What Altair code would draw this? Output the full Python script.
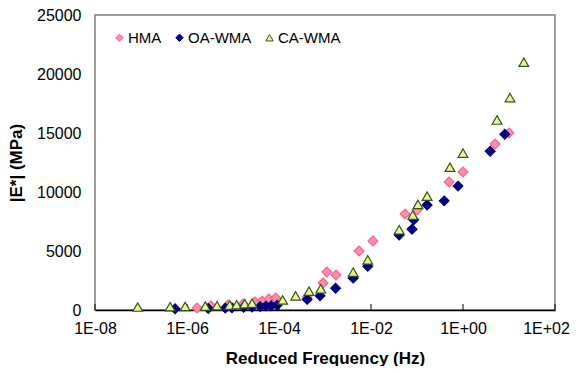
import altair as alt
import pandas as pd

series_names = ["HMA", "OA-WMA", "CA-WMA"]

hma_freq = [1.66e-6, 3.3e-6, 7.8e-6, 1.66e-5, 3.0e-5, 4.3e-5, 6.0e-5, 8.5e-5,
            4.1e-4, 9.1e-4, 1.1e-3, 1.74e-3, 5.5e-3, 0.011, 0.055, 0.1,
            0.5, 1.0, 5.0, 10.0]
hma_e = [170, 340, 420, 510, 680, 760, 930, 1020,
         1100, 2290, 3220, 2970, 5000, 5850, 8140, 8475,
         10850, 11700, 14070, 15000]

oa_freq = [5.5e-7, 2.9e-6, 6.8e-6, 9.5e-6, 1.7e-5, 2.6e-5, 3.9e-5, 5.2e-5,
           6.8e-5, 9.1e-5, 4.1e-4, 7.8e-4, 1.7e-3, 4.1e-3, 8.5e-3, 0.041,
           0.078, 0.085, 0.166, 0.39, 0.78, 3.9, 8.1]
oa_e = [100, 130, 160, 190, 230, 260, 290, 330,
        360, 410, 900, 1200, 1850, 2700, 3700, 6350,
        6850, 7650, 8900, 9250, 10500, 13450, 14900]

ca_freq = [8.5e-8, 4.3e-7, 9.1e-7, 2.5e-6, 4.5e-6, 8.5e-6, 1.2e-5, 1.8e-5,
           2.6e-5, 1.2e-4, 2.3e-4, 4.5e-4, 8.1e-4, 4.1e-3, 8.5e-3, 0.041,
           0.081, 0.105, 0.166, 0.52, 1.0, 5.5, 10.5, 21.0]
ca_e = [250, 280, 300, 330, 360, 420, 450, 530,
        580, 850, 1200, 1600, 1800, 3200, 4250, 6800,
        8050, 8950, 9650, 12100, 13300, 16100, 18000, 21000]

x_tick_values = [1e-8, 1e-6, 1e-4, 1e-2, 1e0, 1e2]
y_tick_values = [0, 5000, 10000, 15000, 20000, 25000]

rows = []
for name, fr, ev in zip(series_names, [hma_freq, oa_freq, ca_freq], [hma_e, oa_e, ca_e]):
    for f, e in zip(fr, ev):
        rows.append({"series": name, "freq": f, "E": e})
df = pd.DataFrame(rows)
tick_df = pd.DataFrame({"freq": x_tick_values})

x_scale = alt.Scale(type="log", domain=[1e-8, 1e2], nice=False)
y_scale = alt.Scale(domain=[0, 25000], nice=False)
x_title = "Reduced Frequency (Hz)"

label_expr = ("'1E' + (datum.value < 1 ? '-' : '+') + "
              "(abs(round(log(datum.value)/LN10)) < 10 ? '0' : '') + "
              "abs(round(log(datum.value)/LN10))")

legend = alt.Legend(orient="none", legendX=17, legendY=15, direction="horizontal",
                    title=None, labelFontSize=15, symbolSize=55, labelOffset=1,
                    columnPadding=10, symbolStrokeWidth=1, labelColor="#000000")

points = alt.Chart(df).mark_point(filled=True, opacity=1, strokeWidth=1.2, size=95).encode(
    x=alt.X("freq:Q", scale=x_scale, title=x_title,
            axis=alt.Axis(values=x_tick_values, labelExpr=label_expr, ticks=False, grid=False,
                          domainColor="#000000", domainWidth=1.5, labelFontSize=16,
                          labelPadding=10, titleFontSize=17, titleFontWeight="bold",
                          titlePadding=14, labelFlush=False, labelOverlap=False,
                          labelOffset={"condition": {"test": "datum.value > 10", "value": -9},
                                       "value": 0},
                          labelColor="#000000", titleColor="#000000")),
    y=alt.Y("E:Q", scale=y_scale, title="|E*| (MPa)",
            axis=alt.Axis(values=y_tick_values, format="d", ticks=False, grid=False, domain=False,
                          labelFontSize=16, labelPadding=14, titleFontSize=17,
                          titleFontWeight="bold", titlePadding=11,
                          labelColor="#000000", titleColor="#000000")),
    shape=alt.Shape("series:N", scale=alt.Scale(domain=series_names,
                    range=["diamond", "diamond", "triangle-up"]), legend=legend),
    fill=alt.Fill("series:N", scale=alt.Scale(domain=series_names,
                  range=["#ff8fae", "#000080", "#eef3a0"]), legend=legend),
    stroke=alt.Stroke("series:N", scale=alt.Scale(domain=series_names,
                      range=["#ff5f86", "#000080", "#2f5a10"]), legend=legend),
)

ticks = alt.Chart(tick_df).mark_rule(color="#000000", strokeWidth=1).encode(
    x=alt.X("freq:Q", scale=x_scale, title=x_title),
    y=alt.datum(0),
    y2=alt.value(289),
)

chart = alt.layer(ticks, points).properties(
    width=460, height=295,
    autosize=alt.AutoSizeParams(type="none"),
    padding={"left": 87, "top": 7, "right": 18, "bottom": 56},
).configure(font="Liberation Sans").configure_view(stroke="#7f7f7f", strokeWidth=1.5)

chart.save("out.html", embed_options={"renderer": "svg", "actions": False})
